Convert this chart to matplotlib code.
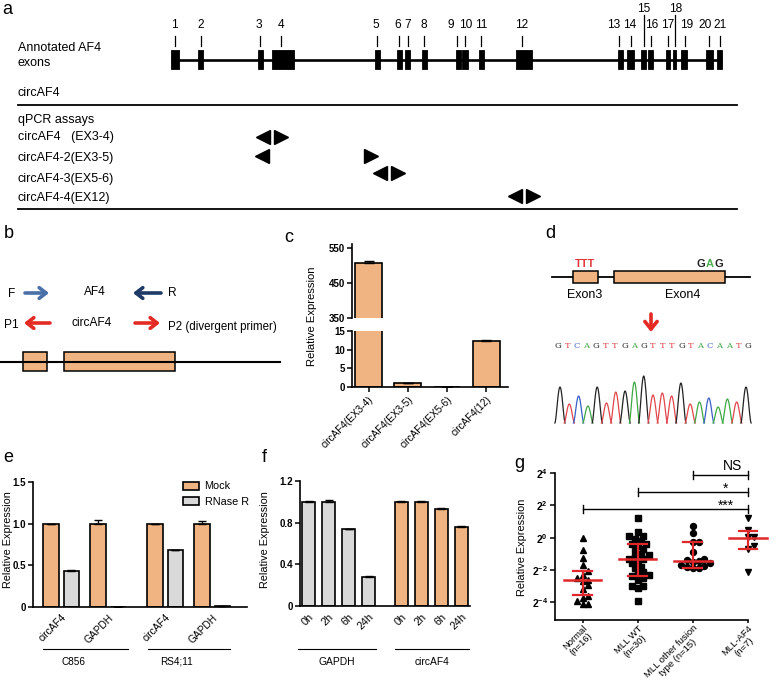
import numpy as np
import matplotlib
matplotlib.use('Agg')
import matplotlib.pyplot as plt
from matplotlib.patches import Rectangle

# ---------------- data ----------------
exon_numbers = [str(i) for i in range(1, 22)]
exon_left = [171, 198.5, 258, 272, 375, 397, 405, 422, 456, 462.5, 479, 516, 618, 627, 641, 648, 666, 673, 681, 706, 717]
exon_right = [179, 203.5, 263, 294, 380, 402, 410, 427, 461, 468, 484, 532.5, 623, 634, 646, 653, 670, 676, 687, 713, 722]
exon_mark = [175, 201, 260.5, 281, 377, 399, 408, 424, 457, 465.5, 481, 522, 619, 631, 644, 651, 668.5, 675.5, 685, 709, 720]
exon_label_x = [174, 201, 259, 281, 376, 398, 408, 424, 451, 466, 481, 522, 614, 630, 644, 651.5, 667.5, 676, 687, 705, 720.5]
raised_labels = ['15', '18']

assay_names = ['circAF4   (EX3-4)', 'circAF4-2(EX3-5)', 'circAF4-3(EX5-6)', 'circAF4-4(EX12)']
assay_left_primer = [263.5, 262.5, 380, 515]
assay_right_primer = [281.5, 371.5, 398, 533]

c_categories = ['circAF4(EX3-4)', 'circAF4(EX3-5)', 'circAF4(EX5-6)', 'circAF4(12)']
c_values = [507, 1.0, 0.05, 12.4]
c_errors = [5, 0.2, 0.0, 0.25]

seq = 'GTCAGTTGAGTTTGTACAATG'
peak_heights = [36, 19, 27, 17, 36, 20, 31, 32, 41, 47, 28, 30, 27, 40, 19, 21, 25, 16, 24, 21, 36]
base_colors = {'G': '#222222', 'T': '#E0474C', 'C': '#3A5FC8', 'A': '#3FA845'}

e_targets = ['circAF4', 'GAPDH', 'circAF4', 'GAPDH']
e_cell_lines = ['C856', 'RS4;11']
e_mock = [1.0, 1.0, 1.0, 1.0]
e_mock_err = [0.0, 0.04, 0.0, 0.03]
e_rnase = [0.43, 0.0, 0.68, 0.01]
e_rnase_err = [0.01, 0.0, 0.01, 0.0]

f_times = ['0h', '2h', '6h', '24h']
f_gapdh = [1.0, 1.0, 0.74, 0.28]
f_gapdh_err = [0.01, 0.02, 0.0, 0.01]
f_circ = [1.0, 1.0, 0.93, 0.76]
f_circ_err = [0.01, 0.01, 0.01, 0.01]
f_groups = ['GAPDH', 'circAF4']

g_groups = ['Normal\n(n=16)', 'MLL WT\n(n=30)', 'MLL other fusion\ntype (n=15)', 'MLL-AF4\n(n=7)']
g_normal = [0.0, -0.78, -1.26, -1.68, -2.05, -2.3, -2.5, -2.6, -2.7, -2.95, -3.2, -3.6, -3.75, -3.95, -4.1, -4.1]
g_mllwt = [1.2, 0.35, 0.1, 0.1, -0.1, -0.2, -0.4, -0.4, -0.5, -0.7, -0.8, -1.0, -1.1, -1.2, -1.3,
           -1.35, -1.5, -1.6, -1.8, -1.9, -2.1, -2.2, -2.3, -2.4, -2.5, -2.6, -3.0, -3.0, -3.1, -3.9]
g_other = [0.74, 0.29, -0.25, -0.3, -0.9, -1.35, -1.4, -1.45, -1.5, -1.6, -1.7, -1.75, -1.8, -1.85, -1.9]
g_af4 = [1.2, 0.46, 0.06, 0.06, -0.53, -0.7, -2.1]
g_median = [-2.6, -1.33, -1.42, 0.0]
g_q1 = [-3.54, -2.38, -1.87, -0.7]
g_q3 = [-2.04, -0.38, -0.29, 0.42]
g_markers = ['^', 's', 'o', 'v']
sig_pairs = [(2, 3), (1, 3), (0, 3)]
sig_labels = ['NS', '*', '***']
sig_levels = [3.85, 2.84, 1.79]

ORANGE = '#F0B482'
GRAY = '#D9D9D9'

# ---------------- setup ----------------
W, H = 778, 689
plt.rcParams['font.family'] = ['Liberation Sans', 'DejaVu Sans']
plt.rcParams['mathtext.fontset'] = 'custom'
plt.rcParams['mathtext.bf'] = 'Liberation Sans:bold'
plt.rcParams['mathtext.rm'] = 'Liberation Sans'

TXT = 9.0
NUM = 8.6
LBL = 13

fig = plt.figure(figsize=(W / 100, H / 100), dpi=100)
bg = fig.add_axes([0, 0, 1, 1])
bg.set_xlim(0, W)
bg.set_ylim(H, 0)
bg.axis('off')


def px_axes(l, t, r, b):
    ax = fig.add_axes([l / W, 1 - b / H, (r - l) / W, (b - t) / H])
    ax.patch.set_alpha(0)
    for s in ['top', 'right']:
        ax.spines[s].set_visible(False)
    for s in ['left', 'bottom']:
        ax.spines[s].set_linewidth(1.2)
    ax.tick_params(width=1.1, length=3.5, labelsize=6.5, pad=1.5)
    return ax


def bold_ticks(ax, fs=6.8):
    for t in ax.get_yticklabels():
        t.set_fontweight('bold')
        t.set_fontsize(fs)


# panel labels
for lab, x, y in [('a', 2, 9), ('b', 4, 233), ('c', 284, 237), ('d', 545, 233),
                  ('e', 3, 458), ('f', 262, 457), ('g', 514, 463)]:
    bg.text(x, y, lab, fontsize=LBL, va='center', ha='left')

# ---------------- panel a ----------------
bg.plot([exon_left[0], exon_right[-1]], [60, 60], color='k', lw=1.9, solid_capstyle='butt')
for num, l, r, m, lx in zip(exon_numbers, exon_left, exon_right, exon_mark, exon_label_x):
    bg.add_patch(Rectangle((l, 50), r - l, 19, fc='k', ec='k', lw=0.6))
    if num in raised_labels:
        bg.plot([m, m], [15, 46], color='k', lw=0.9)
        bg.text(lx, 9, num, ha='center', va='center', fontsize=NUM)
    else:
        bg.plot([m, m], [36, 46], color='k', lw=0.9)
        bg.text(lx, 25, num, ha='center', va='center', fontsize=NUM)

bg.text(18, 48, 'Annotated AF4', fontsize=TXT, va='center')
bg.text(18, 63, 'exons', fontsize=TXT, va='center')
bg.text(18, 93, 'circAF4', fontsize=TXT, va='center')
bg.plot([18, 737], [105, 105], color='k', lw=1.3)
bg.text(18, 120, 'qPCR assays', fontsize=TXT, va='center')
row_y = [137, 158, 179, 198]
tri_y = [137, 156, 173, 196]
for name, y, ty, lp, rp in zip(assay_names, row_y, tri_y, assay_left_primer, assay_right_primer):
    bg.text(18, y, name, fontsize=TXT, va='center')
    bg.plot(lp, ty, marker='<', ms=10.5, color='k', ls='none')
    bg.plot(rp, ty, marker='>', ms=10.5, color='k', ls='none')
bg.plot([18, 737], [209, 209], color='k', lw=1.3)


# ---------------- panel b ----------------
def arrow(x0, y0, x1, y1, color, lw=2.6, ms=11):
    bg.annotate('', xy=(x1, y1), xytext=(x0, y0),
                arrowprops=dict(arrowstyle='->,head_length=0.45,head_width=0.35',
                                color=color, lw=lw, mutation_scale=ms,
                                shrinkA=0, shrinkB=0))


BT = 8.6
bg.text(8, 294, 'F', fontsize=BT, va='center')
arrow(25, 293, 49, 293, '#4A70A8')
bg.text(95, 292, 'AF4', fontsize=BT, va='center', ha='center')
arrow(161, 293, 133, 293, '#1F3A66')
bg.text(168, 293, 'R', fontsize=BT, va='center')
bg.text(4, 325, 'P1', fontsize=BT, va='center')
arrow(50, 323, 24, 323, '#E32B24')
bg.text(92, 323, 'circAF4', fontsize=BT, va='center', ha='center')
arrow(135, 323, 160, 323, '#E32B24')
bg.text(168, 327, 'P2 (divergent primer)', fontsize=BT - 0.3, va='center')
bg.plot([0, 280], [362, 362], color='k', lw=1.5)
bg.add_patch(Rectangle((23, 352), 24, 19, fc=ORANGE, ec='k', lw=1.1))
bg.add_patch(Rectangle((64, 352), 111, 19, fc=ORANGE, ec='k', lw=1.1))

# ---------------- panel d ----------------
bg.plot([552, 750], [277, 277], color='k', lw=1.3)
bg.add_patch(Rectangle((573, 271), 25, 12, fc=ORANGE, ec='k', lw=1.1, zorder=3))
bg.add_patch(Rectangle((614, 271), 111, 12, fc=ORANGE, ec='k', lw=1.1, zorder=3))
bg.text(585, 264, 'TTT', color='#E0363A', fontsize=8, fontweight='bold', ha='center', va='center')
for ch, x, col in zip('GAG', [701, 710, 719], ['#222222', '#4BAE4F', '#222222']):
    bg.text(x, 264, ch, color=col, fontsize=8, fontweight='bold', ha='center', va='center')
bg.text(585, 295, 'Exon3', fontsize=9, ha='center', va='center')
bg.text(683, 295, 'Exon4', fontsize=9, ha='center', va='center')
bg.annotate('', xy=(651, 332), xytext=(651, 314),
            arrowprops=dict(arrowstyle='->,head_length=0.5,head_width=0.4', color='#E32B24',
                            lw=2.6, mutation_scale=11, shrinkA=0, shrinkB=0))
for i, ch in enumerate(seq):
    bg.text(558 + i * 9.5, 346, ch, color=base_colors[ch], fontsize=6, ha='center', va='center',
            family='DejaVu Serif')
base = 423
step = 9.3
for i, (ch, h) in enumerate(zip(seq, peak_heights)):
    xc = 560 + i * step
    xs = np.linspace(xc - step * 0.55, xc + step * 0.55, 30)
    ys = base - h * np.clip(np.cos(np.pi * (xs - xc) / (step * 1.1)), 0, None) ** 1.6
    bg.plot(xs, ys, color=base_colors[ch], lw=0.9)

# ---------------- panel c ----------------
cx = np.arange(len(c_categories))
c_top = px_axes(352, 244.5, 508, 318)
c_bot = px_axes(352, 331, 508, 387)
for ax in (c_top, c_bot):
    ax.bar(cx, c_values, width=0.68, color=ORANGE, edgecolor='k', linewidth=1.2)
    ax.errorbar(cx, c_values, yerr=[np.zeros(len(cx)), c_errors], fmt='none', ecolor='k',
                elinewidth=1.0, capsize=3.5, capthick=1.0)
    ax.set_xlim(-0.42, 3.55)
c_top.set_ylim(350, 560)
c_top.set_yticks([350, 450, 550])
c_top.spines['bottom'].set_visible(False)
c_top.set_xticks([])
c_bot.set_ylim(0, 15)
c_bot.set_yticks([0, 5, 10, 15])
c_bot.set_xticks(cx)
c_bot.set_xticklabels(c_categories, rotation=45, ha='right', rotation_mode='anchor', fontsize=7.2)
bold_ticks(c_top, 7)
bold_ticks(c_bot, 7)
bg.text(312, 316, 'Relative Expression', rotation=90, fontsize=8.1, ha='center', va='center')

# ---------------- panel e ----------------
e_ax = px_axes(33, 482, 247, 607)
e_centers = np.array([0, 1, 2.22, 3.22])
off = 0.215
bm = e_ax.bar(e_centers - off, e_mock, width=0.34, color=ORANGE, edgecolor='k', linewidth=1.2,
              label='Mock')
br = e_ax.bar(e_centers + off, e_rnase, width=0.32, color=GRAY, edgecolor='k', linewidth=1.2,
              label='RNase R')
e_ax.errorbar(e_centers - off, e_mock, yerr=[np.zeros(4), e_mock_err], fmt='none', ecolor='k',
              elinewidth=1.0, capsize=3, capthick=1.0)
e_ax.errorbar(e_centers + off, e_rnase, yerr=[np.zeros(4), e_rnase_err], fmt='none', ecolor='k',
              elinewidth=1.0, capsize=3, capthick=1.0)
e_ax.set_xlim(-0.6, 3.96)
e_ax.set_ylim(0, 1.5)
e_ax.set_yticks([0, 0.5, 1.0, 1.5])
e_ax.set_yticklabels(['0', '0.5', '1.0', '1.5'])
e_ax.set_xticks(e_centers)
e_ax.set_xticklabels(e_targets, rotation=45, ha='right', rotation_mode='anchor', fontsize=7.3)
e_ax.tick_params(axis='x', length=0, pad=4)
bold_ticks(e_ax, 7)
e_ax.legend(handles=[bm, br], loc='upper left', bbox_to_anchor=(178 / W, 1 - 476 / H),
            bbox_transform=fig.transFigure, frameon=False, fontsize=7.8, handlelength=1.4,
            handleheight=0.8, labelspacing=0.5, handletextpad=0.55, borderpad=0)
bg.text(8, 540, 'Relative Expression', rotation=90, fontsize=7.8, ha='center', va='center')
for (x0, x1), name in zip([(43, 128), (148, 230)], e_cell_lines):
    bg.plot([x0, x1], [649, 649], color='k', lw=0.8)
    bg.text((x0 + x1) / 2 - 12, 662, name, fontsize=7.2, ha='center', va='center')

# ---------------- panel f ----------------
f_ax = px_axes(300, 481, 470, 606)
fx_g = np.arange(4)
fx_c = np.arange(4) + 4.65
f_ax.bar(fx_g, f_gapdh, width=0.68, color=GRAY, edgecolor='k', linewidth=1.2)
f_ax.bar(fx_c, f_circ, width=0.68, color=ORANGE, edgecolor='k', linewidth=1.2)
f_ax.errorbar(fx_g, f_gapdh, yerr=[np.zeros(4), f_gapdh_err], fmt='none', ecolor='k',
              elinewidth=1.0, capsize=3, capthick=1.0)
f_ax.errorbar(fx_c, f_circ, yerr=[np.zeros(4), f_circ_err], fmt='none', ecolor='k',
              elinewidth=1.0, capsize=3, capthick=1.0)
f_ax.set_xlim(-0.43, 8.08)
f_ax.set_ylim(0, 1.2)
f_ax.set_yticks([0, 0.4, 0.8, 1.2])
f_ax.set_yticklabels(['0', '0.4', '0.8', '1.2'])
f_ax.set_xticks(np.concatenate([fx_g, fx_c]))
f_ax.set_xticklabels(f_times * 2, rotation=45, ha='right', rotation_mode='anchor', fontsize=7.8)
f_ax.tick_params(axis='x', length=0, pad=4)
bold_ticks(f_ax, 7)
bg.text(265, 540, 'Relative Expression', rotation=90, fontsize=7.8, ha='center', va='center')
for (x0, x1), name in zip([(298, 376), (395, 469)], f_groups):
    bg.plot([x0, x1], [649, 649], color='k', lw=0.8)
    bg.text((x0 + x1) / 2, 662, name, fontsize=7.4, ha='center', va='center')

# ---------------- panel g ----------------
g_ax = px_axes(555, 473, 748, 620)
g_ax.set_xlim(-0.5, 3.0)
g_ax.set_ylim(-5.1, 4)
xpx, ypx = 55.0, 16.25
dmin = 5.2


def swarm(vals):
    order = np.argsort(vals)
    placed = []
    offs = np.zeros(len(vals))
    for idx in order:
        y = vals[idx] * ypx
        cands = [0.0]
        for k in range(1, 12):
            cands += [k * dmin * 0.55, -k * dmin * 0.55]
        for c in cands:
            if all((c - px) ** 2 + (y - py) ** 2 >= dmin ** 2 for px, py in placed):
                offs[idx] = c
                placed.append((c, y))
                break
    return offs / xpx


for i, (vals, mk) in enumerate(zip([g_normal, g_mllwt, g_other, g_af4], g_markers)):
    vals = np.array(vals)
    xs = i + swarm(vals)
    g_ax.plot(xs, vals, ls='none', marker=mk, ms=4.3, color='k', zorder=3, clip_on=False)
    g_ax.plot([i - 0.34, i + 0.34], [g_median[i]] * 2, color='#E0282A', lw=1.8, zorder=4,
              clip_on=False)
    g_ax.plot([i, i], [g_q1[i], g_q3[i]], color='#E0282A', lw=1.6, zorder=4, clip_on=False)
    for q in (g_q1[i], g_q3[i]):
        g_ax.plot([i - 0.17, i + 0.17], [q, q], color='#E0282A', lw=1.6, zorder=4, clip_on=False)

for (a, b), lab, lev in zip(sig_pairs, sig_labels, sig_levels):
    g_ax.plot([a, b], [lev, lev], color='k', lw=1.0, clip_on=False)
    g_ax.plot([a, a], [lev - 0.25, lev + 0.25], color='k', lw=1.0, clip_on=False)
    g_ax.plot([b, b], [lev - 0.25, lev + 0.25], color='k', lw=1.0, clip_on=False)
g_ax.text(2.72, 4.45, sig_labels[0], fontsize=10, ha='center', va='center', clip_on=False)
g_ax.text(2.6, 3.05, sig_labels[1], fontsize=10, ha='center', va='center')
g_ax.text(2.6, 2.0, sig_labels[2], fontsize=10, ha='center', va='center')

g_ax.set_yticks([-4, -2, 0, 2, 4])
g_ax.set_yticklabels([r'$\mathbf{2^{%d}}$' % v for v in [-4, -2, 0, 2, 4]], fontsize=7.5)
g_ax.set_xticks(range(4))
g_ax.set_xticklabels(g_groups, rotation=45, ha='right', rotation_mode='anchor',
                     fontsize=6.8, multialignment='center', linespacing=1.0)
g_ax.tick_params(axis='x', pad=0.5, length=2.2)
bg.text(522, 547, 'Relative Expression', rotation=90, fontsize=7.9, ha='center', va='center')

fig.savefig('out.png', dpi=100)
